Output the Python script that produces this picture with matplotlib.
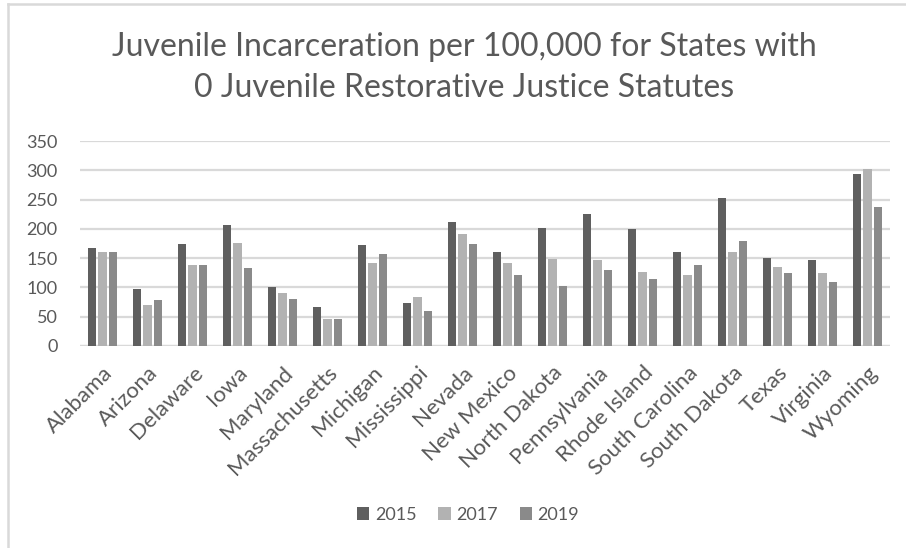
import numpy as np
import matplotlib.pyplot as plt
from matplotlib.lines import Line2D

states = ['Alabama', 'Arizona', 'Delaware', 'Iowa', 'Maryland', 'Massachusetts',
          'Michigan', 'Mississippi', 'Nevada', 'New Mexico', 'North Dakota',
          'Pennsylvania', 'Rhode Island', 'South Carolina', 'South Dakota',
          'Texas', 'Virginia', 'Wyoming']
y2015 = [167, 97, 174, 207, 101, 66, 172, 73, 211, 161, 202, 226, 200, 161, 252, 150, 146, 294]
y2017 = [161, 70, 138, 176, 90, 46, 142, 83, 191, 142, 148, 146, 126, 122, 161, 135, 125, 302]
y2019 = [161, 79, 138, 133, 81, 46, 157, 59, 174, 122, 103, 129, 114, 139, 179, 125, 109, 237]
years = ['2015', '2017', '2019']
colors = ['#5f5f5f', '#b2b2b2', '#8a8a8a']

plt.rcParams['font.family'] = ['Lato', 'DejaVu Sans']

fig = plt.figure(figsize=(9.06, 5.48), dpi=100)
ax = fig.add_axes([80 / 906, 1 - 346 / 548, 810 / 906, 205 / 548])

x = np.arange(len(states))
w = 0.18
for i, (vals, lab, c) in enumerate(zip([y2015, y2017, y2019], years, colors)):
    ax.bar(x + (i - 1) * 0.225, vals, width=w, color=c, label=lab, zorder=3)

ax.set_xlim(-0.5, len(states) - 0.5)
ax.set_ylim(0, 350)
ax.set_yticks(range(0, 351, 50))
ax.yaxis.grid(True, color='#d9d9d9', linewidth=1.6, zorder=0)
for s in ax.spines.values():
    s.set_visible(False)
ax.tick_params(axis='both', length=0, labelsize=13, labelcolor='#595959')
ax.tick_params(axis='y', pad=16)
ax.set_xticks(x)
ax.set_xticklabels(states, rotation=45, ha='right', rotation_mode='anchor', fontsize=16)
ax.tick_params(axis='x', pad=12)
ax.axhline(0, color='#d9d9d9', linewidth=1.6, zorder=2)

fig.text(464 / 906, 1 - 47 / 548, 'Juvenile Incarceration per 100,000 for States with',
         ha='center', va='center', fontsize=23, color='#595959')
fig.text(464 / 906, 1 - 88 / 548, '0 Juvenile Restorative Justice Statutes',
         ha='center', va='center', fontsize=23, color='#595959')

fig.legend(loc='center', bbox_to_anchor=(468 / 906, 1 - 515 / 548), ncol=3,
           frameon=False, fontsize=13, handlelength=0.7, handleheight=0.7,
           handletextpad=0.3, columnspacing=1.2, labelcolor='#595959')

fig.add_artist(Line2D([8 / 906, 8 / 906], [0, 1 - 4 / 548], color='#d9d9d9', linewidth=1.8))
fig.add_artist(Line2D([8 / 906, 1], [1 - 4 / 548, 1 - 4 / 548], color='#d9d9d9', linewidth=1.8))

fig.savefig('out.png', dpi=100)
